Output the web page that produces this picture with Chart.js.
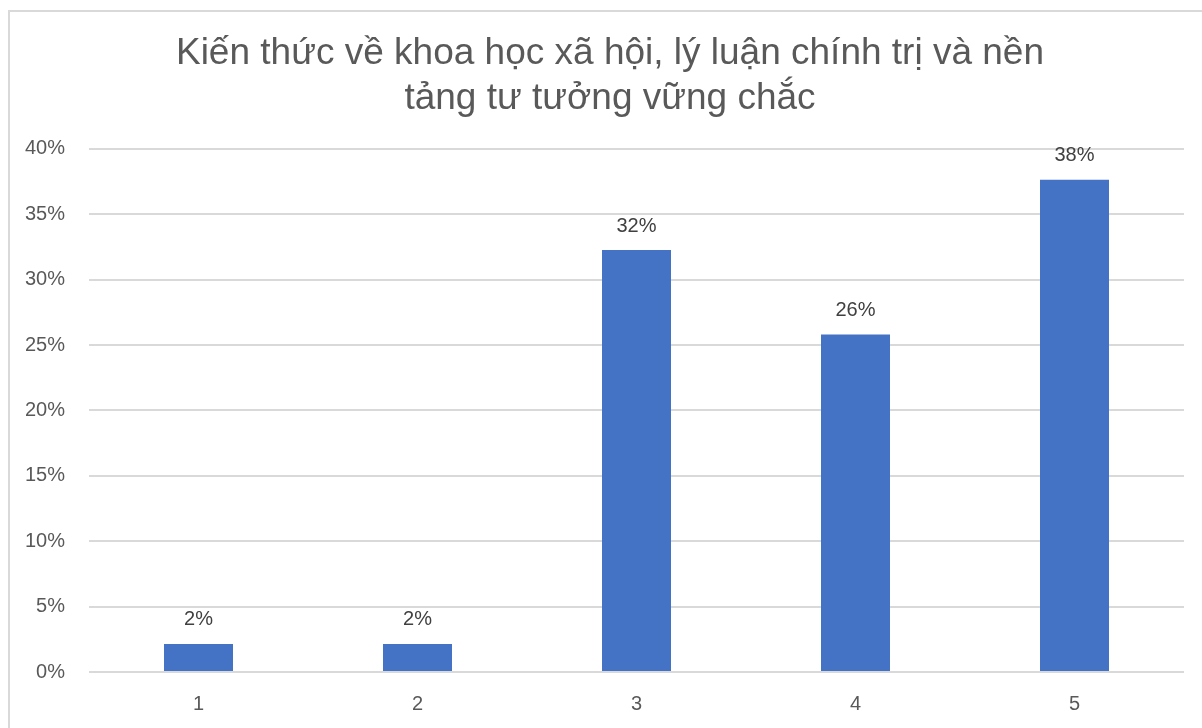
<!DOCTYPE html>
<html>
<head>
<meta charset="utf-8">
<script src="https://cdn.jsdelivr.net/npm/chart.js@4/dist/chart.umd.min.js"></script>
<style>
  html, body { margin: 0; padding: 0; background: #fff; overflow: hidden; }
  #wrap { position: relative; width: 1202px; height: 728px; }
  #frame { position: absolute; left: 8px; top: 10px; width: 1210px; height: 740px;
           border: 2px solid #d9d9d9; box-sizing: border-box; pointer-events: none; }
</style>
</head>
<body>
<div id="wrap">
  <canvas id="chart"></canvas>
  <div id="frame"></div>
</div>
<script>
// Chart data
const categories = ['1', '2', '3', '4', '5'];
const shares = [2.15, 2.15, 32.26, 25.81, 37.63];
const shareLabels = ['2%', '2%', '32%', '26%', '38%'];
const yTicks = [0, 5, 10, 15, 20, 25, 30, 35, 40];
const titleLines = ['Kiến thức về khoa học xã hội, lý luận chính trị và nền', 'tảng tư tưởng vững chắc'];

// Value labels above each bar
const barLabels = {
    id: 'barLabels',
    afterLayout(chart) {
        // centre the title on the framed area rather than the plot
        chart.titleBlock.left = 36;
    },
    afterDatasetsDraw(chart) {
        const ctx = chart.ctx;
        const meta = chart.getDatasetMeta(0);
        ctx.save();
        ctx.font = '20px "Liberation Sans", Arial, sans-serif';
        ctx.fillStyle = '#404040';
        ctx.textAlign = 'center';
        ctx.textBaseline = 'middle';
        meta.data.forEach((bar, i) => {
            ctx.fillText(shareLabels[i], bar.x, bar.y - 24);
        });
        ctx.restore();
    }
};

const tickFont = { family: '"Liberation Sans", Arial, sans-serif', size: 20 };

new Chart(document.getElementById('chart').getContext('2d'), {
    type: 'bar',
    data: {
        labels: categories,
        datasets: [{
            data: shares,
            backgroundColor: '#4472c4',
            borderWidth: 0,
            barPercentage: 0.315,
            categoryPercentage: 1
        }]
    },
    options: {
        responsive: true,
        maintainAspectRatio: false,
        animation: false,
        layout: { padding: { left: 0, right: 18, top: 0, bottom: 14 } },
        plugins: {
            legend: { display: false },
            tooltip: { enabled: false },
            title: {
                display: true,
                text: titleLines,
                color: '#595959',
                font: { family: '"Liberation Sans", Arial, sans-serif', size: 37, weight: 'normal', lineHeight: 1.2 },
                padding: { top: 32, bottom: 28 }
            }
        },
        scales: {
            x: {
                afterFit(axis) { axis.height = 42; },
                grid: { display: false, drawTicks: false },
                border: { display: false },
                ticks: { color: '#595959', font: tickFont, padding: 20 }
            },
            y: {
                min: 0,
                max: 40,
                afterBuildTicks(axis) {
                    axis.ticks = yTicks.map(v => ({ value: v }));
                },
                afterFit(axis) { axis.width = 89; },
                grid: { color: '#d9d9d9', lineWidth: 2, drawTicks: false },
                border: { display: false },
                ticks: {
                    color: '#595959',
                    font: tickFont,
                    padding: 24,
                    callback: v => v + '%'
                }
            }
        }
    },
    plugins: [barLabels]
});
</script>
</body>
</html>
